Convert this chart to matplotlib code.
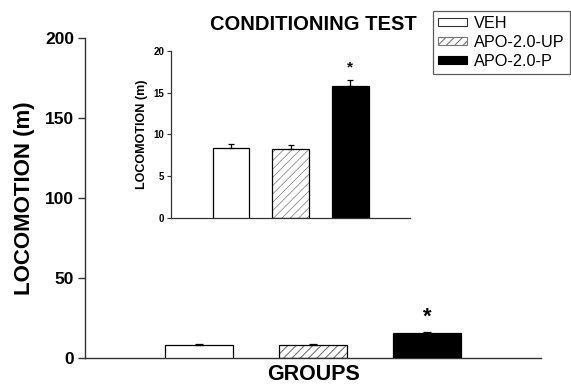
import matplotlib
matplotlib.use("Agg")
import matplotlib.pyplot as plt
from matplotlib.patches import Patch

plt.rcParams['font.family'] = ['Liberation Sans', 'DejaVu Sans']

# data
groups = ['VEH', 'APO-2.0-UP', 'APO-2.0-P']
loco = [8.4, 8.3, 15.8]
loco_err = [0.4, 0.4, 0.7]
sig = [False, False, True]

face = ['white', 'white', 'black']
hatches = [None, '////', None]
hatch_col = '#777777'
xpos = list(range(len(groups)))


def draw_bars(ax, width, hatch_lw, cap):
    for x, v, e, fc, h in zip(xpos, loco, loco_err, face, hatches):
        if h:
            plt.rcParams['hatch.linewidth'] = hatch_lw
            ax.bar(x, v, width, color='white', edgecolor=hatch_col, hatch=h, linewidth=0, zorder=2)
            ax.bar(x, v, width, fill=False, edgecolor='black', linewidth=0.9, zorder=3)
        else:
            ax.bar(x, v, width, color=fc, edgecolor='black', linewidth=0.9, zorder=3)
        ax.errorbar(x, v, yerr=[[0], [e]], fmt='none', ecolor='black', elinewidth=0.9,
                    capsize=cap, capthick=0.9, zorder=4)


fig = plt.figure(figsize=(5.71, 3.9), dpi=100)

# main panel
ax = fig.add_axes([0.1489, 0.082, 0.7986, 0.8205])
draw_bars(ax, 0.6, 0.8, 3)
ax.set_xlim(-1, 3)
ax.set_ylim(0, 200)
ax.set_yticks([0, 50, 100, 150, 200])
ax.set_xticks([])
for s in ['top', 'right']:
    ax.spines[s].set_visible(False)
for s in ['left', 'bottom']:
    ax.spines[s].set_color('#333333')
    ax.spines[s].set_linewidth(1.0)
ax.tick_params(axis='y', length=5, width=1, color='#333333', labelsize=12.5, pad=3)
for lab in ax.get_yticklabels():
    lab.set_fontweight('bold')
ax.set_ylabel('LOCOMOTION (m)', fontsize=16, fontweight='bold', labelpad=7)
ax.set_xlabel('GROUPS', fontsize=15.5, fontweight='bold', labelpad=4)
ax.set_title('CONDITIONING TEST', fontsize=14.5, fontweight='bold', pad=6)
for x, v, e, s in zip(xpos, loco, loco_err, sig):
    if s:
        ax.text(x, v + e + 2.5, '*', ha='center', va='bottom', fontsize=16, fontweight='bold')

# legend
handles = [Patch(facecolor='white', edgecolor='#333333', linewidth=0.8),
           Patch(facecolor='white', edgecolor=hatch_col, hatch='////', linewidth=0.8),
           Patch(facecolor='black', edgecolor='black', linewidth=0.8)]
leg = fig.legend(handles, groups, loc='upper right', bbox_to_anchor=(0.998, 0.972),
                 fontsize=11.7, frameon=True, fancybox=False, edgecolor='#333333',
                 handlelength=1.8, handleheight=0.45, handletextpad=0.45,
                 labelspacing=0.25, borderpad=0.3, borderaxespad=0)
leg.get_frame().set_linewidth(0.9)

# inset panel
ins = fig.add_axes([0.2995, 0.441, 0.4186, 0.429])
draw_bars(ins, 0.61, 0.5, 2.5)
ins.set_xlim(-1, 3)
ins.set_ylim(0, 20)
ins.set_yticks([0, 5, 10, 15, 20])
ins.set_xticks([])
for s in ['top', 'right']:
    ins.spines[s].set_visible(False)
for s in ['left', 'bottom']:
    ins.spines[s].set_color('#333333')
    ins.spines[s].set_linewidth(0.9)
ins.tick_params(axis='y', length=3, width=0.8, color='#333333', labelsize=7, pad=2)
for lab in ins.get_yticklabels():
    lab.set_fontweight('bold')
ins.set_ylabel('LOCOMOTION (m)', fontsize=9, fontweight='bold', labelpad=4)
for x, v, e, s in zip(xpos, loco, loco_err, sig):
    if s:
        ins.text(x, v + e + 0.6, '*', ha='center', va='bottom', fontsize=11, fontweight='bold')

fig.savefig('out.png', dpi=100)
